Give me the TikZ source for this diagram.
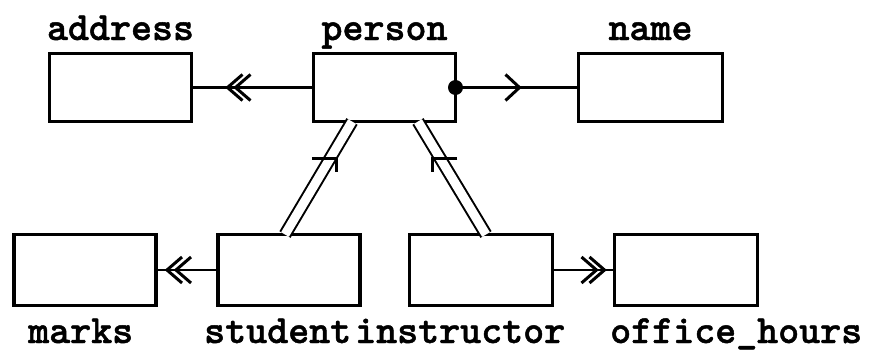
\documentclass[tikz,border=0pt]{standalone}
\usepackage{fontspec}
\newfontfamily\lblfont{lmmonolt10-bold.otf}[FakeBold=1.2]
\usetikzlibrary{decorations.markings,calc}
\tikzset{
  ent/.style={draw, line width=3.2pt, minimum width=142pt, minimum height=68pt, inner sep=0pt, outer sep=0pt},
  lbl/.style={font=\fontsize{40}{44}\selectfont\lblfont, inner sep=0pt},
  conn/.style={line width=2.4pt},
  chevmark/.style={line width=3pt},
  dbl/.style={double, line width=2pt, double distance=9pt},
  tick/.style={line width=3pt}
}
\begin{document}
\begin{tikzpicture}[x=1pt,y=-1pt]
\useasboundingbox (0,0) rectangle (875,356);
% entities
\node[ent] (address) at (120.5,87.5) {};
\node[ent] (person) at (384.5,87.5) {};
\node[ent, minimum width=144pt] (name) at (650.5,87.5) {};
\node[ent, minimum height=71pt] (marks) at (85,270) {};
\node[ent, minimum height=71pt] (student) at (289,270) {};
\node[ent, minimum height=71pt, minimum width=143pt] (instructor) at (481,270) {};
\node[ent, minimum height=71pt, minimum width=143pt] (office) at (686,270) {};
% labels
\node[lbl, anchor=base] (laddress) at (120.5,40) {address};
\node[lbl, anchor=base] (lperson) at (384.5,40) {person};
\node[lbl, anchor=base] (lname) at (650.5,40) {name};
\node[lbl, anchor=base west] (lmarks) at (28,343) {marks};
\node[lbl, anchor=base west] (lstudent) at (204,343) {student};
\node[lbl, anchor=base west] (linstructor) at (355,343) {instructor};
\node[lbl, anchor=base west] (loffice) at (610,343) {office\_hours};
% connectors
\draw[conn, decoration={markings,
   mark=at position -36pt with {\draw[chevmark] (-15,13)--(0,0)--(-15,-13);},
   mark=at position -44pt with {\draw[chevmark] (-15,13)--(0,0)--(-15,-13);}},
   postaction=decorate] (person.west) -- (address.east);
\draw[conn, decoration={markings,
   mark=at position -59pt with {\draw[chevmark] (-14,13)--(0,0)--(-14,-13);}},
   postaction=decorate] (person.east) -- (name.west);
\fill (person.east) circle[radius=7.5pt];
\draw[conn, decoration={markings,
   mark=at position -11pt with {\draw[chevmark] (-15,13)--(0,0)--(-15,-13);},
   mark=at position -20pt with {\draw[chevmark] (-15,13)--(0,0)--(-15,-13);}},
   postaction=decorate] (student.west) -- (marks.east);
\draw[conn, decoration={markings,
   mark=at position -10pt with {\draw[chevmark] (-15,13)--(0,0)--(-15,-13);},
   mark=at position -18pt with {\draw[chevmark] (-15,13)--(0,0)--(-15,-13);}},
   postaction=decorate] (instructor.east) -- (office.west);
% ISA double lines
\coordinate (pl) at ($(person.south)+(-32.5,0)$);
\coordinate (sl) at ($(student.north)+(-4,0)$);
\coordinate (pr) at ($(person.south)+(33.5,0)$);
\coordinate (ir) at ($(instructor.north)+(5,0)$);
\draw[dbl] (pl) -- (sl);
\draw[dbl] (pr) -- (ir);
\coordinate (tl) at ($(pl)!0.33!(sl)$);
\coordinate (tr) at ($(pr)!0.33!(ir)$);
\draw[tick] ($(tl)+(-18,0)$) -- ($(tl)+(7,0)$) -- ($(tl)+(7,13)$);
\draw[tick] ($(tr)+(17,0)$) -- ($(tr)+(-7.5,0)$) -- ($(tr)+(-7.5,13)$);
\end{tikzpicture}
\end{document}
